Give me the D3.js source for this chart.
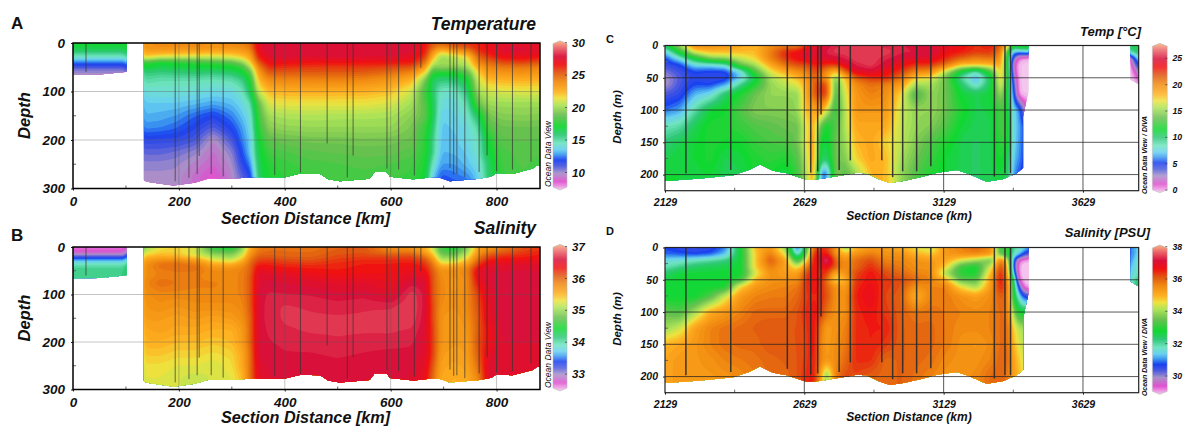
<!DOCTYPE html>
<html><head><meta charset="utf-8">
<script src="https://cdn.jsdelivr.net/npm/d3@7"></script>
<style>html,body{margin:0;background:#fff}svg{display:block}text{font-family:"Liberation Sans",Arial,sans-serif;fill:#111}</style>
</head><body><svg id="c" width="1183" height="426"></svg>
<script>
// ---------- Odv palette (fraction down the colour bar -> colour) ----------
const paletteStops=[0,.05,.105,.16,.216,.272,.34,.385,.43,.5,.576,.632,.686,.73,.76,.8,.84,.888,.944,1];
const paletteColors=["#f9b484","#ea6068","#d8103a","#f01010","#e05810","#f08810","#ffb020","#eee23e","#b0e458","#68c050","#10d830","#30c878","#70e4c0","#68d0f0","#40a0f0","#1840f0","#4858e0","#a890c8","#e050d0","#f4c8ee"];

// ---------- Panels A / B: section 0-880 km ----------
const abDepths=[0,10,20,30,40,50,60,75,100,125,150,175,200,225,250,275,300];
const abDistances=[0,50,98,135,165,195,230,265,300,320,335,350,370,400,450,500,550,600,640,665,680,695,720,745,765,785,810,850,882];
const temperatureProfiles=[
[17,17,15.7,14.4,12.5,11.2,10,10,10],
[17,17,15.7,14.4,12.5,11.2,10,10,10],
[17,17,15.7,14.4,12.5,11.2,10,10,10],
[23.7,23.8,23,22,18,17.2,16,15.3,14.2,13.6,13.3,12.8,11.7,10.9,10.3,10,10],
[24,24,23,21,17,16.8,15.8,15,14.3,13.6,13.2,12.7,11.6,10.9,10.3,10,10],
[24.2,23.8,22.8,20.8,17.5,16.8,16,15,14.3,13.6,13,12.4,11.6,10.7,10.2,10,10],
[24,24,22.7,20.7,17.8,17,16.2,15,14.2,13.4,12.4,11.8,11.2,10.3,9.7,9.4,9.4],
[23.8,23.8,22.5,21,18,17,16,14.8,14,13.1,11.9,11,9.8,9.4,9.2,8.6,8.6],
[24.2,23.8,22.7,21.3,18.6,17.2,16.3,15.1,14,13.4,12.7,12,11.2,10.4,10,9.8,9.8],
[24.5,24,23,22,19.8,18,17.1,15.7,14.7,14,13.5,13,12.7,12.2,11.7,11,11],
[25,24.6,23.8,23,22,20.3,18.8,17.5,16.5,15,14.3,14,13.6,13.6,12.7,11.7,11.7],
[27.5,27.5,27,26.5,25.5,24.3,23.5,22.5,21,18.8,18.2,17.7,17.2,16.8,16.5,16.2,16.2],
[28,28,28,27.7,27,26.4,25.5,24.2,22.5,21.3,20.3,19.7,18.8,18.2,17.7,17.5,17.5],
[28,28,28,27.8,27,26.2,25.5,24.3,22.7,21.5,20.5,19.9,19,18.4,18,17.8,17.8],
[28,28,27.9,27.7,26.8,26,25.5,24.3,22.8,21.5,20.6,20,19.2,18.7,18.3,18.2,18.2],
[28,28,28,27.8,26.8,26,25.5,24.4,22.7,21.5,20.5,20,19.2,18.8,18.4,18.2,18.2],
[28,28,28,27.7,26.8,26,25.5,24.2,22.7,21.5,20.5,20,19.3,18.9,18.6,18.2,18.2],
[28,28,28,27.6,26.8,25.8,25,23.7,22.3,21.2,20.4,20,19.2,18.9,18.4,18.2,18.2],
[27.8,27.8,27.8,27.3,26.7,25.5,24.3,22.7,21,20.3,19.7,19.3,19,18.6,18.2,18,18],
[26.8,26.8,26.6,26,25,23.5,22,19.5,18.2,18.5,18.8,18,17.8,17.7,17.5,17.2,17.2],
[25.5,25,23.5,22.5,21,19.5,17.8,16.2,16.1,16.6,16.6,16.1,15.6,15.6,14.6,13.6,13.6],
[25.5,24,21.5,20,20,20,17.6,16,14.5,14.1,13.7,13.5,13.5,13.3,13,12.2,12],
[26,25,22.5,20.5,20.5,19.8,17.6,16,14.5,14.1,13.9,13.7,13.5,13.4,13,12.5,12],
[26.5,25.5,23.5,21.5,21,20.1,18.7,17.1,16,15,14.5,14.1,14.1,13.7,13.5,12.8,12],
[26.5,26.5,26,25,24.3,23,22,21.2,20.3,19,16.5,15.2,14.6,14.6,14.1,13.7,13.7],
[27,27,26.8,26,25,24.2,23.5,22.5,21,20.2,19.3,18.5,17.5,17,16.3,16.2,16.2],
[27.5,27.8,27.6,26.8,25.8,24.5,23.8,22.7,21.2,20.2,19.6,19,18.7,18.3,18.2,18,18],
[27.5,27.8,27.8,27,26,24.5,24,22.8,21.3,20.2,19.7,19,18.8,18.6,18.5,18.4,18.4],
[27.3,27.5,27.4,26.6,25.5,24.3,23.6,22.7,21.3,20.2,19.6,19,18.7,18.5,18.3,18.2,18.2]];
const salinityProfiles=[
[32.7,32.75,33.2,33.8,34.05,34.15,34.15,34.15,34.15],
[32.7,32.75,33.2,33.8,34.05,34.15,34.15,34.15,34.15],
[32.7,32.75,33.2,33.8,34.05,34.15,34.15,34.15,34.15],
[35,35.2,35.5,35.7,35.8,35.8,35.8,35.85,35.8,35.75,35.7,35.6,35.55,35.45,35.35,35.3,35.3],
[35.3,35.4,35.55,35.9,36,35.9,35.9,36,35.85,35.8,35.7,35.65,35.55,35.45,35.35,35.3,35.3],
[35.4,35.4,35.5,35.9,36.05,35.95,35.9,35.95,35.85,35.75,35.65,35.6,35.5,35.4,35.3,35.25,35.25],
[35.3,35.2,35.35,35.8,36,35.95,35.9,35.9,35.85,35.8,35.7,35.6,35.5,35.4,35.3,35.2,35.2],
[34.5,34.8,35.1,35.4,35.7,35.85,35.8,35.9,35.85,35.8,35.65,35.55,35.45,35.35,35.25,35.25,35.25],
[34.35,34.8,35,35.3,35.7,35.85,35.85,35.85,35.85,35.8,35.7,35.55,35.5,35.4,35.35,35.3,35.3],
[34.9,35.1,35.3,35.6,35.85,35.9,35.9,35.9,35.9,35.85,35.8,35.7,35.7,35.6,35.6,35.5,35.5],
[35.6,35.7,35.85,36,36.05,36.05,36.1,36.1,36.1,36.1,36.05,36.05,36.05,36,36,36,36],
[35.9,35.95,36.1,36.2,36.4,36.5,36.55,36.58,36.6,36.6,36.6,36.6,36.6,36.6,36.55,36.5,36.5],
[36,36,36.1,36.25,36.35,36.45,36.55,36.6,36.66,36.68,36.68,36.66,36.64,36.62,36.6,36.58,36.58],
[36,36,36.05,36.2,36.3,36.42,36.52,36.58,36.65,36.72,36.72,36.7,36.66,36.64,36.6,36.58,36.58],
[35.95,36,36.05,36.15,36.3,36.35,36.45,36.55,36.64,36.7,36.72,36.72,36.68,36.64,36.6,36.58,36.58],
[36.05,36.1,36.15,36.25,36.3,36.33,36.4,36.5,36.6,36.68,36.72,36.72,36.7,36.66,36.62,36.6,36.6],
[36.1,36.1,36.2,36.3,36.35,36.35,36.42,36.52,36.62,36.7,36.72,36.72,36.68,36.64,36.6,36.58,36.58],
[35.8,35.9,36.2,36.3,36.35,36.38,36.4,36.45,36.52,36.7,36.74,36.72,36.68,36.62,36.6,36.58,36.58],
[35.75,35.9,36.2,36.3,36.4,36.45,36.5,36.62,36.76,36.78,36.76,36.7,36.66,36.62,36.6,36.58,36.58],
[35.6,35.6,36,36.2,36.3,36.4,36.5,36.58,36.62,36.62,36.6,36.58,36.55,36.55,36.5,36.45,36.45],
[35.2,35.3,35.6,35.85,36,36.05,36.1,36.1,36.1,36.15,36.15,36.2,36.2,36.2,36.1,36,36],
[34.65,34.7,34.95,35.2,35.6,35.8,35.8,35.85,35.85,35.8,35.75,35.75,35.75,35.7,35.65,35.6,35.6],
[34.4,34.65,34.95,35.25,35.6,35.8,35.75,35.7,35.75,35.75,35.7,35.7,35.7,35.65,35.6,35.55,35.55],
[34.9,35.05,35.3,35.5,35.8,35.9,35.85,35.85,35.85,35.85,35.8,35.75,35.7,35.7,35.65,35.6,35.6],
[35.7,35.7,35.9,36.1,36.3,36.5,36.5,36.4,36.2,36.15,36.1,36.1,36.15,36.1,36,35.85,35.85],
[35.7,35.9,36.2,36.35,36.55,36.58,36.58,36.58,36.55,36.5,36.5,36.4,36.4,36.5,36.58,36.58,36.58],
[35.9,36.05,36.3,36.4,36.55,36.58,36.6,36.62,36.62,36.62,36.6,36.6,36.58,36.58,36.58,36.58,36.58],
[36.1,36.2,36.3,36.45,36.58,36.58,36.6,36.62,36.62,36.62,36.6,36.6,36.58,36.58,36.58,36.58,36.58],
[36.2,36.3,36.35,36.45,36.55,36.58,36.6,36.62,36.62,36.62,36.6,36.6,36.58,36.58,36.58,36.58,36.58]];
const abStationKm=[24.5,193,219,234.5,238.3,261,283.6,381,429.6,480,518,529,593,615,644.7,657,712,719,725,740,767,782,800,830,865];
const abStationDepth=[60,285,278,270,233,270,275,272,267,207,277,232,259,261,273,51,258,271,270,276,266,232,264,261,245];
const abSeafloor=[
[[0,66],[50,65],[98,60],[101,59]],
[[134,283],[140,286],[165,290],[190,294],[230,288],[255,280],[300,280],[325,278],[340,277],[400,277],[430,269],[467,270],[482,281],[504,285],[560,280],[570,266],[592,266],[599,276],[643,281],[678,277],[690,277],[712,285],[768,280],[790,275],[800,268],[830,270],[868,259],[877,252],[882,252]]];

// ---------- Panels C / D: section 2129-3829 km ----------
const cdDepths=[0,10,20,30,40,50,60,75,100,125,150,175,200,225];
const cdDistances=[2129,2183,2237,2291,2345,2399,2453,2507,2561,2604,2636,2662,2687,2708,2741,2777,2813,2867,2921,2975,3029,3083,3137,3191,3245,3299,3335,3360,3378,3400,3421,3440,3800,3818,3830];
const tempProfiles=[
[11,7.2,5.2,4.6,3.6,2.7,2.7,4.2,5.9,8.6,10.2,11,11.5],
[15.6,12.1,8.1,5.2,4.6,4.2,4.4,4.8,6.6,9.2,11,11.5,11.5],
[20.6,16.9,11.5,7.7,5.4,5,5.4,6.9,9.2,11,11.5,11.5,11.3],
[20.1,18.2,14.6,7.7,5.2,4.6,5.2,7.7,11.5,12.1,12.1,12.1,11.5],
[19.5,18.2,15.1,8.6,5.2,4.8,6.3,10.6,11.8,12.1,11.8,11,10.9],
[18.8,18.2,16.2,14,7.7,7.1,9.6,12.1,13.3,12.7,11.8,11.3,11],
[18.2,18.2,17.5,15.6,13.3,11,12.1,14,14.6,13.3,12.7,12.1,12.1],
[20.1,20.6,20.6,18.8,16.9,15.6,15.1,15.1,14.6,13.6,13.1,12.5,11.8],
[20.6,23.3,22.8,21.2,18.8,16.9,16.2,15.1,14.6,14,13.3,12.1,11],
[20.6,23.8,23.8,22.2,20.1,18.2,16.9,15.1,15.1,14,14,13.3,12.7],
[22.8,24.9,24.4,22.2,20.6,19.5,18.8,18.8,18.2,16.9,16.9,16.2,15.6],
[23.8,24.9,24.4,23.3,22.2,21.7,21.7,21.7,18.8,18.8,19.5,19.5,19.5],
[24.4,24.9,24.6,23.3,21.7,20.6,22.8,22.8,19.5,14,11.5,11,6.3],
[24.9,25.4,24.9,22.8,20.1,19.5,22.2,22.8,16.9,11.5,11,10.2,5.2,9.2],
[25.4,26,24.9,22.8,18.2,14.6,13.3,12.7,12.1,13.3,14,14,14.6],
[26,26,25.4,24.4,21.7,18.2,17.5,16.9,16.2,16,15.3,14.6,13.3],
[25.8,26,26,25.4,24.4,21.7,20.1,19.5,19.5,18.8,18.2,17.5,15.1],
[26,26,26,26,24.9,22.8,21.2,20.6,19.5,18.8,18.8,18.8,18.2],
[25.4,26,25.4,24.9,23.8,23.3,20.6,20.1,19.5,18.8,17.5,18.2,18.2],
[25.4,25.4,24.9,23.8,22.8,21.2,19.5,17.5,16.5,16.2,16.2,15.6,15.1],
[24.9,25.4,24.6,22.8,20.6,17.5,15.6,12.7,15.1,15.1,14.6,14,13.3],
[24.9,25.4,24.4,22.8,20.1,16.9,15.6,15.1,15.1,14.6,13.3,12.7,12.1],
[24.4,23.8,23,21.2,16.2,14,14,14,14,13.3,12.1,11.5,11.5],
[23.8,23.3,21.7,18.2,11.5,9.2,10.6,11.5,12.1,11.5,11,11,11],
[22.8,22.8,20.6,18.2,8.6,6.6,7.7,11,11,10.9,10.6,10.6,10.6],
[23.3,22.8,21.2,18.2,13.3,11,11,11.5,11.2,11,11,11,11],
[21.7,20.6,19.5,18.8,18.2,18.2,17.5,15.6,13.3,13.3,12.7,12.1,11.5],
[18.2,12.1,11,11,12.1,11.5,11.5,11,11.5,12.1,12.1,11,10.6],
[12.1,6.6,4,2.2,2.5,4,5,6.3,7.7,7.7,7.7,7.2,6.6],
[13.3,6.6,.4,-.4,-.4,-.4,-.4,-.2,6.6,6.8,6.6,6.3,5.4],
[13.3,7.2,-.2,-.4,-.4,-.4,-.4,-.4,2.2,5,5,5,5],
[13.3,7.2,-.2,-.4,-.4,-.4,-.4,-.4,1.6,5,5,5,5],
[11,9.2,1.6,-.2,-.4,-.4,-.4],
[11,10.6,5.9,4.5,1.6,.4,-.4],
[11,11,8.1,5,4.5,1.6,.8]];
const psuProfiles=[
[30.8,30.9,31.6,31.9,32.4,32.8,32.8,32.8,33.5,34,35,35.2,35.2],
[30.6,30.8,31.7,32.2,32.8,32.8,32.8,32.8,33.3,34.4,35.2,35.4,35.4],
[30.5,30.7,31.9,32.5,32.8,32.8,32.8,32.8,34.1,35.3,35.4,35.4,35.4],
[30.6,30.8,32.1,32.6,32.8,32.8,32.8,33.3,35.1,35.7,35.7,35.5,35.4],
[31,31.3,32.3,32.7,32.8,32.8,32.8,34.4,35.4,35.9,35.9,35.7,35.5],
[32.8,32.8,32.8,32.8,32.8,33.1,34.7,35.4,35.7,36,36,35.8,35.6],
[35,34.8,34.8,34.8,34.4,35,35.4,35.7,36,36.1,36,35.9,35.8],
[35.4,35.8,36.2,35.8,35.5,35.5,35.6,35.8,36,36.2,36.2,36,36],
[34,34.5,35.3,35.2,35.3,35.5,35.7,35.8,36,36.2,36.2,36.1,36],
[30.5,31.5,33,34.5,35.3,35.5,35.8,36,36.2,36.2,36.2,36.2,36.2],
[33,33.5,34.5,35.7,36.3,36.5,36.5,36.4,36.5,36.4,36.3,36.4,36.5],
[36,36.6,36.8,36.8,36.7,36.7,36.7,36.6,36.7,36.8,36.8,36.7,36.7],
[36.4,36.6,36.7,36.5,36.5,36.6,36.6,36.5,36.5,35.9,35.7,35.7,35.4],
[36.4,36.7,38,36.8,36.5,36,36.1,36.3,35.9,35.3,35.3,35.4,33.5,35],
[35.5,35.5,36,36.2,35,34.5,35.5,35.5,35.5,35.5,35.6,35.6,35.8],
[33.8,35,35.5,35.5,35.5,35,35.3,35.5,35.5,35.7,35.8,36,36.3],
[35,35.5,36,36,36.3,36.4,36.5,36.6,36.5,36.5,36.5,36.5,36.3],
[35.3,35.8,36.3,36.5,36.7,36.7,36.8,36.9,36.7,36.6,36.6,36.5,36.1],
[35.3,35.5,35.7,36,36.3,36.4,36.4,36.3,36.4,36.6,36.4,36,36],
[35,35.5,35.7,35.8,36,36.3,36.2,36.1,36.1,36.1,36.1,36.1,36.1],
[34.6,35,35.5,35.5,35.7,36,35.5,35,35.8,36,36,36,35.9],
[34.3,34.8,35.4,35.5,35.6,35.7,35.7,35.7,35.9,36,36,35.9,35.7],
[35.4,35.4,35.2,34.8,34,35.1,35.7,35.8,35.8,35.8,35.8,35.6,35.5],
[35.7,35.6,34.5,33.1,33,33.4,34.6,35.5,35.7,35.6,35.5,35.5,35.5],
[36,35.7,34,32.8,32.9,33.4,34,35.3,35.6,35.6,35.4,35.5,35.6],
[35.6,35.5,33.4,34.5,35,35.3,35.4,35.6,35.7,35.7,35.6,35.7,36],
[33,33.2,36,36.4,36.7,36.8,36.7,36.2,36,36,36,36.1,36.1],
[33.5,33,34.5,35,35.2,35.5,35.8,35.8,35.8,36,36,36,35.8],
[32,32,31,30.8,31.5,32.8,33,33,34,34.8,35,35.3,35.3],
[32,31.5,29.2,29,29,29.2,30.3,31.5,32.8,34.2,34.5,34.8,35],
[31.5,30.5,29,28.9,28.9,28.9,29,30.5,32.8,34,34.2,34.3,34.4],
[31,30.5,29,28.9,28.9,28.9,29,30.5,32.8,34,34.2,34.3,34.4],
[31,31,31.1,31.3,31.5,31.6,31.7],
[31.3,31.2,31.5,31.6,31.7,32,32.5],
[31.5,31.7,32,32,32,32.5,32.8]];
const cdStationKm=[2204,2365,2568,2652,2677,2689,2754,2794,2907,2946,2982,3032,3083,3311,3349,3369];
const cdStationDepth=[198,193,188,197,195,107,193,178,178,204,195,195,187,203,198,198];
const cdSeafloor=[
[[2129,210],[2255,206],[2373,201],[2434,192],[2470,184],[2517,194],[2566,198],[2637,208],[2685,207],[2757,202],[2817,197],[2853,198],[2901,208],[2937,213],[2984,210],[3056,203],[3104,197],[3176,193],[3224,200],[3283,211],[3343,207],[3391,198],[3414,190],[3414,110],[3433,72],[3433,0]],
[[3800,53],[3829,60]]];

const abXTicks=[0,200,400,600,800], abXMinor=[100,300,500,700];
const abYTicks=[0,100,200,300], abYMinor=[50,150,250];
const cdXTicks=[2129,2629,3129,3629], cdXMinor=[2379,2879,3379];
const cdYTicks=[0,50,100,150,200], cdYMinor=[25,75,125,175];
const tempTicks=[30,25,20,15,10], salTicks=[37,36,35,34,33], tempCTicks=[25,20,15,10,5,0], psuTicks=[38,36,34,32,30];

const svg=d3.select("#c"), defs=svg.append("defs");
const F="Liberation Sans";
function txt(g,x,y,s,size,o={}){
  const t=g.append("text").attr("x",x).attr("y",y).text(s).attr("font-size",size)
   .attr("font-weight",o.w||"bold").attr("font-style",o.i===false?"normal":"italic").attr("text-anchor",o.a||"start");
  if(o.rot)t.attr("transform",`rotate(-90 ${x} ${y})`);
  return t;
}
let uid=0;
function panel(p){
  const id=++uid;
  const x=d3.scaleLinear().domain(p.xDomain).range([p.left,p.right]);
  const y=d3.scaleLinear().domain(p.yDomain).range([p.top,p.bottom]);
  const color=d3.scaleLinear().domain(paletteStops.map(f=>p.vTop+(p.vBottom-p.vTop)*f)).range(paletteColors).interpolate(d3.interpolateRgb).clamp(true);
  const ci=d3.scaleLinear().domain(p.dist).range(d3.range(p.dist.length)).clamp(true);
  const ri=d3.scaleLinear().domain(p.depths).range(d3.range(p.depths.length)).clamp(true);
  const prof=p.profiles.map(c=>{const r=c.slice();while(r.length<p.depths.length)r.push(r[r.length-1]);return r;});
  const step=1.5,nx=Math.ceil((p.right-p.left)/step)+1,ny=Math.ceil((p.bottom-p.top)/step)+1;
  let vals=new Float64Array(nx*ny);
  for(let j=0;j<ny;j++){const rv=ri(y.invert(p.top+j*step)),r0=Math.min(Math.floor(rv),p.depths.length-2),fr=rv-r0;
    for(let i=0;i<nx;i++){const cv=ci(x.invert(p.left+i*step)),c0=Math.min(Math.floor(cv),p.dist.length-2),fc=cv-c0;
      const a=prof[c0][r0],b=prof[c0+1][r0],c=prof[c0][r0+1],d=prof[c0+1][r0+1];
      vals[i+j*nx]=(a*(1-fc)+b*fc)*(1-fr)+(c*(1-fc)+d*fc)*fr;}}
  if(d3.blur2){d3.blur2({data:vals,width:nx,height:ny},1);}
  const lo=Math.min(p.vTop,p.vBottom),hi=Math.max(p.vTop,p.vBottom);
  const thresholds=d3.range(lo-1,hi,(hi-lo)/72);
  const cont=d3.contours().size([nx,ny]).thresholds(thresholds)(Array.from(vals));
  const cp=defs.append("clipPath").attr("id","m"+id);
  const area=d3.area().x(d=>x(d[0])).y0(y(0)).y1(d=>y(d[1]));
  p.seafloor.forEach(s=>cp.append("path").attr("d",area(s)));
  const g=svg.append("g").attr("clip-path",`url(#m${id})`);
  g.append("g").attr("transform",`translate(${p.left-step/2},${p.top-step/2}) scale(${step})`)
   .selectAll("path").data(cont).join("path").attr("d",d3.geoPath()).attr("fill",d=>color(d.value));
  const grid=svg.append("g");
  grid.selectAll(".h").data(p.yTicks.filter(v=>v>0)).join("line")
    .attr("x1",p.left).attr("x2",p.right).attr("y1",y).attr("y2",y)
    .attr("stroke",p.gridH).attr("stroke-opacity",p.gridOp).attr("stroke-width",1);
  grid.selectAll(".v").data(p.xTicks.slice(1)).join("line")
    .attr("y1",p.top).attr("y2",p.bottom).attr("x1",x).attr("x2",x)
    .attr("stroke",p.gridH).attr("stroke-opacity",p.gridOp).attr("stroke-width",1);
  svg.append("g").selectAll("line").data(p.stationKm).join("line")
    .attr("x1",x).attr("x2",x).attr("y1",p.top).attr("y2",(d,i)=>y(p.stationDepth[i]))
    .attr("stroke",p.stationColor).attr("stroke-width",p.stationWidth).attr("stroke-opacity",p.stationOp);
  const ax=svg.append("g").attr("transform",`translate(0,${p.bottom})`)
    .call(d3.axisBottom(x).tickValues(p.xTicks).tickSize(p.tick).tickSizeOuter(0).tickFormat(d3.format("d")).tickPadding(p.xPad));
  ax.select(".domain").remove();
  const ay=svg.append("g").attr("transform",`translate(${p.left},0)`)
    .call(d3.axisLeft(y).tickValues(p.yTicks).tickSize(p.tick).tickSizeOuter(0).tickPadding(p.yPad));
  ay.select(".domain").remove();
  [ax,ay].forEach(a=>{a.selectAll("text").attr("font-size",p.tickFont).attr("font-weight","bold").attr("font-style","italic").attr("font-family",F);a.selectAll("line").attr("stroke","#222");});
  svg.append("g").selectAll("line").data(p.xMinor).join("line").attr("x1",x).attr("x2",x).attr("y1",p.bottom).attr("y2",p.bottom-3).attr("stroke","#666");
  svg.append("g").selectAll("line").data(p.yMinor).join("line").attr("y1",y).attr("y2",y).attr("x1",p.left).attr("x2",p.left+3).attr("stroke","#666");
  svg.append("rect").attr("x",p.left).attr("y",p.top).attr("width",p.right-p.left).attr("height",p.bottom-p.top)
    .attr("fill","none").attr("stroke",p.frame).attr("stroke-width",p.frameW);
  const b=p.bar,ys=d3.scaleLinear().domain([p.vTop,p.vBottom]).range([b.y0,b.y1]);
  const cb=defs.append("clipPath").attr("id","b"+id);
  const xm=(b.x0+b.x1)/2,pts=[[b.x0,b.y0+3],[xm,b.y0],[b.x1,b.y0+3],[b.x1,b.y1-3],[xm,b.y1],[b.x0,b.y1-3]];
  cb.append("polygon").attr("points",pts.join(" "));
  const bg=svg.append("g").attr("clip-path",`url(#b${id})`);
  bg.selectAll("rect").data(d3.range(b.y0,b.y1,1)).join("rect").attr("x",b.x0).attr("width",b.x1-b.x0).attr("y",d=>d).attr("height",1.2).attr("fill",d=>color(ys.invert(d+.5)));
  svg.append("polygon").attr("points",pts.join(" ")).attr("fill","none").attr("stroke","#bbb").attr("stroke-width",.6);
  svg.append("g").selectAll("line").data(p.barTicks).join("line").attr("x1",b.x1-2).attr("x2",b.x1).attr("y1",ys).attr("y2",ys).attr("stroke","#333").attr("stroke-opacity",.7);
  svg.append("g").selectAll("text").data(p.barTicks).join("text").attr("x",b.lx).attr("y",d=>ys(d)+p.barFont*.36).text(d=>d)
    .attr("font-size",p.barFont).attr("font-weight","bold").attr("font-style","italic");
  txt(svg,p.title[1],p.title[2],p.titleText,p.title[0],{a:"end"});
  txt(svg,p.letter[1],p.letter[2],p.letterText,p.letter[0],{i:false});
  txt(svg,p.xt[1],p.xt[2],p.xTitle,p.xt[0],{a:"middle"});
  txt(svg,p.yt[1],p.yt[2],p.yTitle,p.yt[0],{a:"middle",rot:true});
  txt(svg,p.odv[1],p.odv[2],p.odvText,p.odv[0],{a:"middle",rot:true,w:p.odvW});
}
const ab={xDomain:[0,882],left:73,right:540,dist:abDistances,depths:abDepths,seafloor:abSeafloor,stationKm:abStationKm,stationDepth:abStationDepth,
  xTicks:abXTicks,xMinor:abXMinor,yTicks:abYTicks,yMinor:abYMinor,gridH:"#555",gridOp:.35,stationColor:"#333",stationWidth:1,stationOp:.7,tick:2,xPad:6,yPad:6,tickFont:13.5,frame:"#000",frameW:1.5,barFont:11.5,odvW:"normal",yDomain:[0,300],xTitle:"Section Distance [km]",yTitle:"Depth"};
const cd={xDomain:[2129,3829],left:665,right:1138.7,dist:cdDistances,depths:cdDepths,seafloor:cdSeafloor,stationKm:cdStationKm,stationDepth:cdStationDepth,
  xTicks:cdXTicks,xMinor:cdXMinor,yTicks:cdYTicks,yMinor:cdYMinor,gridH:"#222",gridOp:.75,stationColor:"#2a2a2a",stationWidth:1.5,stationOp:.9,tick:2,xPad:6,yPad:5,tickFont:10.5,frame:"#222",frameW:1.2,barFont:8.7,odvW:"bold",yDomain:[0,225],xTitle:"Section Distance (km)",yTitle:"Depth (m)"};
panel({...ab,top:43,bottom:188.5,profiles:temperatureProfiles,vTop:30.3,vBottom:7.3,bar:{x0:553,x1:567,y0:40.7,y1:190,lx:572},barTicks:tempTicks,
  titleText:"Temperature",title:[17.5,536,30],letterText:"A",letter:[17,11,29],xt:[16.2,305.5,224],yt:[16.5,30,115.5],odvText:"Ocean Data View",odv:[8.5,551,154]});
panel({...ab,top:247,bottom:389.5,profiles:salinityProfiles,vTop:37.07,vBottom:32.47,bar:{x0:553,x1:567,y0:244.3,y1:391,lx:572},barTicks:salTicks,
  titleText:"Salinity",title:[17.5,536,234],letterText:"B",letter:[17,11,241],xt:[16.2,305.5,422.5],yt:[16.5,30,318],odvText:"Ocean Data View",odv:[8.5,551,355]});
panel({...cd,top:45.5,bottom:190.7,profiles:tempProfiles,vTop:27.85,vBottom:-.5,bar:{x0:1152.3,x1:1167.3,y0:43.3,y1:192.7,lx:1172.5},barTicks:tempCTicks,
  titleText:"Temp [°C]",title:[13,1141,36],letterText:"C",letter:[11,606,43],xt:[12,909,220],yt:[11.5,621,117],odvText:"Ocean Data View / DIVA",odv:[7,1146.5,155]});
panel({...cd,top:247.5,bottom:392.7,profiles:psuProfiles,vTop:38.1,vBottom:28.87,bar:{x0:1152.3,x1:1167.3,y0:245,y1:394.3,lx:1172.5},barTicks:psuTicks,
  titleText:"Salinity [PSU]",title:[13,1150,237],letterText:"D",letter:[11,606,235],xt:[12,909,421],yt:[11.5,621,319],odvText:"Ocean Data View / DIVA",odv:[7,1146.5,357]});
</script></body></html>
